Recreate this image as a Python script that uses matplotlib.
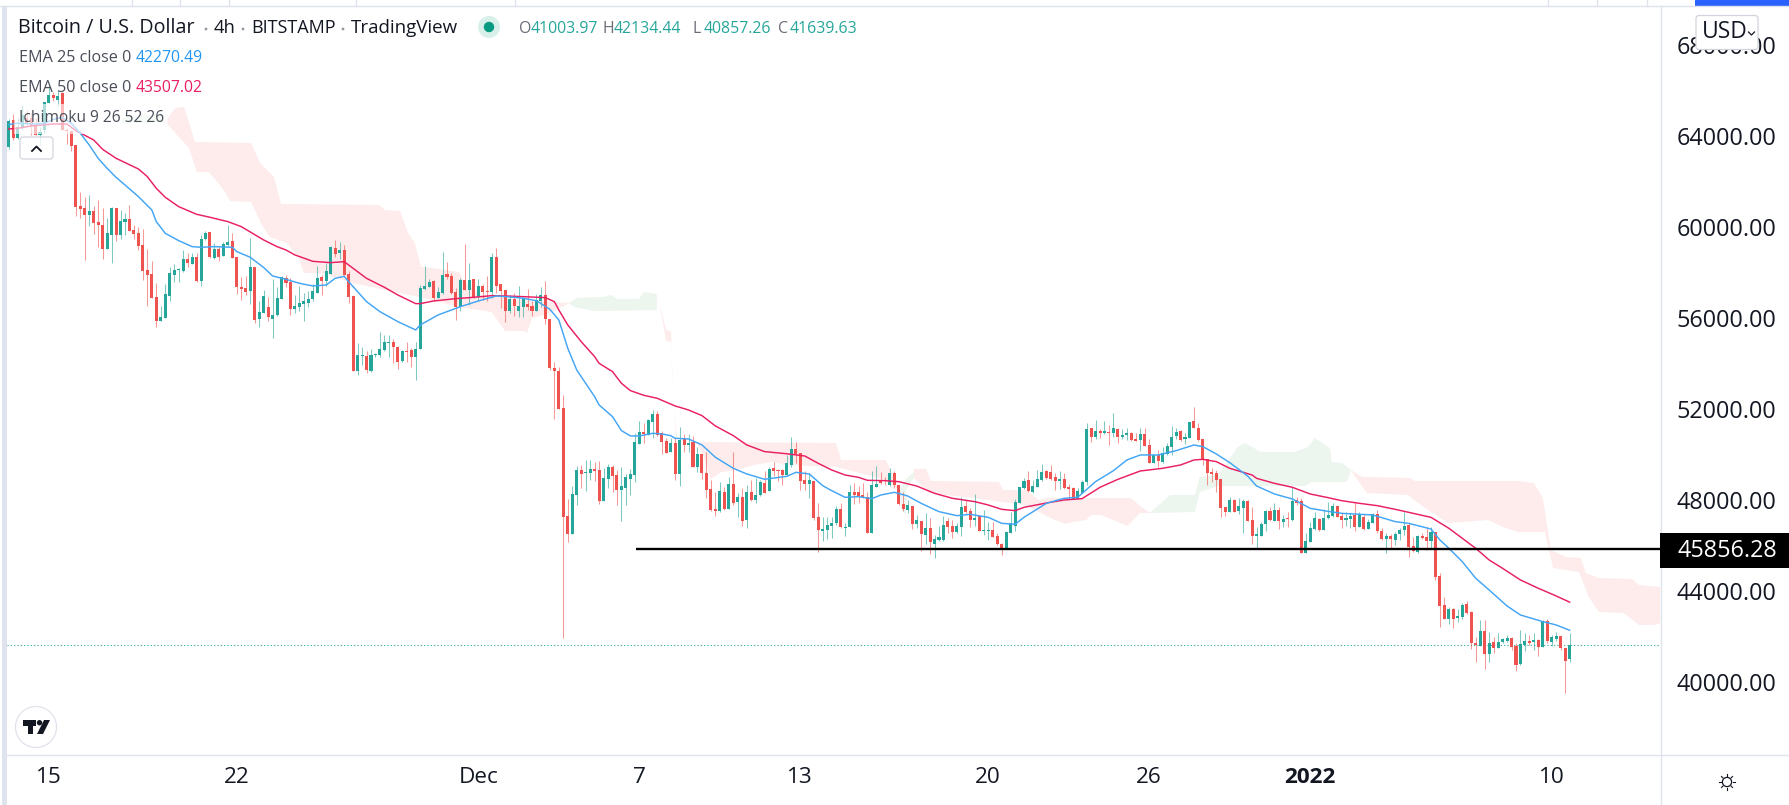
import numpy as np
import matplotlib
matplotlib.use("Agg")
import matplotlib.pyplot as plt
from matplotlib.patches import Rectangle, FancyBboxPatch, Circle, Polygon

plt.rcParams['font.family'] = ['Open Sans', 'DejaVu Sans']

# ---------- candles (4h bars, BTC/USD) ----------
opens = [
63530,64700,63910,64340,64780,64780,64440,64040,64260,65465,
65800,65580,65875,64260,64230,63600,60920,60840,60540,60700,
60220,60090,59050,59660,60840,59650,60220,60350,59870,59720,
59210,58110,57935,56910,55885,56000,56970,57910,58100,58080,
58595,58390,58680,57640,59475,59800,58650,59030,58740,59195,
59370,58680,57365,57305,57200,58240,55972,56234,56498,55970,
56132,56850,57772,57568,56395,56498,56630,56674,56820,57113,
57802,57611,57934,59076,58842,58989,57934,56967,53685,54315,
54330,53685,54359,54359,54594,54916,54945,54725,54110,54550,
54594,54300,54652,57260,57348,57611,56894,57084,57934,57846,
57128,56498,57670,57230,57714,56937,57407,57187,57128,58681,
57494,57230,56308,56835,56308,56468,56600,56527,56322,56761,
56996,55941,53787,53670,52029,47297,46506,48220,49319,49202,
49202,49363,49319,47971,48923,49466,49099,48440,48528,48923,
49099,50462,50974,50872,51429,51780,50930,50579,50110,50520,
49143,50696,50418,50550,49466,50022,49202,48484,47605,47532,
48352,47620,48704,47927,48132,47121,48352,48000,48220,48762,
48411,49392,49333,49319,49097,49537,50240,50050,48877,48702,
48848,47251,46651,46680,46856,46973,47603,46782,46812,48350,
48350,48233,48116,46563,48584,48877,48848,48643,49200,48643,
47823,47574,47735,46944,47076,46475,46783,46065,46240,46240,
47061,46870,46577,46827,47735,47500,47120,47295,46621,46621,
46665,46416,46065,45889,46563,46870,47881,48526,48877,48365,
48584,48877,49273,49244,48995,48849,48907,48556,48526,48058,
48321,48790,51149,50782,51017,50944,50988,50958,51120,50782,
50841,50958,50665,50636,50900,50416,49640,49962,49669,50021,
50343,50812,51046,50694,50724,51471,51163,50665,49786,49230,
49171,48922,47677,47486,47999,47516,47662,47970,47120,46417,
46432,46944,47516,47091,47560,47032,47164,47120,47999,47955,
45655,46167,46709,47163,46680,47207,47280,47734,47310,47119,
47163,47339,46811,47251,46723,47002,47368,46635,46284,46416,
46255,46504,46680,46899,45976,45727,46416,46372,46196,46606,
44658,43369,42768,43207,42812,42870,43427,43076,41728,41581,
42240,41230,41742,41508,41757,41816,41933,41581,40790,41625,
41801,41757,41845,41552,42665,41772,41874,42021,41508,41004]

closes = [
64670,63900,64380,64920,64560,64440,64040,64190,65490,65800,
65655,65760,64260,64230,63560,60895,60800,60530,60690,60190,
60100,59020,59720,60820,59635,60265,60350,59840,59710,59180,
58080,57910,56895,55885,56030,57055,57980,58110,58110,58595,
58420,58680,57640,59475,59740,58700,59050,58700,59240,59330,
58650,57380,57276,57145,58240,55914,56265,56967,56029,56132,
56864,57787,57553,56410,56513,56660,56732,56835,57172,57758,
57626,58066,59120,58813,58989,57904,56937,53685,54374,54330,
53714,54374,54418,54637,54945,54945,54740,54081,54564,54491,
54286,54637,57318,57406,57582,56864,57143,57890,57787,57113,
56469,57670,57230,57670,56908,57407,57143,57157,58681,57407,
57187,56308,56835,56527,56527,56820,56497,56322,56790,56996,
55955,53787,53685,52015,47268,46506,48264,49319,49143,49231,
49363,49290,47971,48967,49451,49055,48440,48616,48996,49143,
50550,50974,50901,51517,51780,50857,50550,50081,50520,49143,
50637,50418,50506,49466,50022,49172,48440,47561,47532,48396,
47590,48704,47883,48132,47092,48352,48000,48220,48792,48323,
49348,49290,49290,49114,49610,50240,50006,48848,48702,48877,
47222,46680,46709,46885,46988,47603,46797,46826,48365,48218,
48174,48116,46563,48658,48702,48731,48819,49200,48643,47823,
47588,47779,46944,47120,46504,46783,46138,46284,46387,46900,
46812,46577,46856,47691,47471,47120,47222,46651,46680,46680,
46387,46050,45889,46592,47002,47896,48555,48848,48380,48614,
48907,49244,48951,48922,48834,48907,48526,48482,48058,48380,
48805,51120,50782,51017,50958,51017,50958,51149,50782,50856,
50958,50636,50607,50900,50387,49640,49962,49728,50050,50372,
50753,50988,50636,50753,51412,51163,50636,49786,49171,49142,
48878,47662,47486,47999,47486,47721,47940,47091,46432,46505,
46944,47516,47120,47560,47076,47164,47149,47955,47853,45655,
46197,46753,47207,46680,47207,47339,47734,47265,47119,47207,
47295,46826,47339,46723,47031,47383,46635,46284,46416,46284,
46504,46680,46855,45932,45742,46416,46313,46196,46592,44628,
43339,42783,43222,42768,42900,43398,43017,41728,41640,42240,
41230,41728,41479,41757,41889,41918,41552,40761,41669,41786,
41713,41860,41552,42680,41786,41977,42021,41479,40922,41640]

highs = [
64730,64970,64780,65360,65140,64990,64780,64410,65490,66200,
65950,66020,65950,64340,64230,63600,61540,61305,61410,60920,
61190,60820,60380,60895,60840,60750,60600,60970,60090,59990,
59900,59020,58490,57525,56530,57480,58260,58375,58200,58990,
58845,58845,58845,59650,59840,59800,59310,59135,59360,60090,
59720,58680,57818,57850,59500,58240,56734,57230,56937,57714,
57348,57846,57890,57743,57011,57407,57113,57201,57480,58285,
57890,58402,59164,59428,59340,59208,58080,56967,54886,54711,
54564,54623,54447,55385,55253,55253,55062,54784,54594,54945,
54667,54960,57450,58285,57729,57670,57377,58915,58461,57992,
57304,57743,59252,58402,57714,57699,57480,57846,58871,59062,
57494,57230,57011,57084,57407,56937,57259,56761,57054,57347,
57626,55941,54051,53831,52615,48030,48616,49495,49524,49758,
49758,49685,49700,49407,49583,49539,49319,49466,49143,49348,
50930,51487,51399,51546,51956,51927,51018,50711,50711,50711,
51209,50901,50901,50813,50315,50022,50125,48880,48367,48792,
48586,49026,50095,48294,48513,48660,48880,48953,48880,49260,
49466,49670,49378,49378,49976,50753,50533,50050,49288,49170,
48848,47852,47237,47237,47237,47735,47881,46973,48658,48731,
48614,48731,48365,49273,49493,49229,48995,49405,49288,48643,
48365,48000,47735,47339,47076,47412,47193,46460,46856,47295,
47193,47120,47002,48116,48000,47632,48262,47295,47559,47046,
47032,46563,46123,46651,47486,48028,48584,48951,49288,48877,
49317,49581,49317,49537,49171,49288,49200,48702,48556,48512,
48878,51369,51149,51515,51105,51456,51281,51808,51149,51105,
51149,51002,50929,51149,51149,50665,49977,50196,50343,50490,
51251,51149,51075,50958,51427,52072,51398,50665,49786,49391,
49317,48922,47706,48116,48043,48072,48028,47999,47677,46798,
47047,47560,47677,47882,47677,47340,47486,48556,48116,48072,
46534,47046,47485,47192,47588,47925,47852,47734,47441,47456,
47441,47925,47456,47368,47148,47412,47558,46782,46562,46504,
46606,46753,47485,46972,46387,46460,46533,46797,46797,46606,
44775,43720,43281,43237,43193,43456,43544,43105,41991,42724,
42724,42211,41991,42167,41933,42050,41991,41699,42284,42138,
42065,42138,41889,42709,42753,42065,42211,42021,41508,42134]

lows = [
63440,63825,63850,64290,64480,64040,64040,63600,64120,65465,
65550,65320,64260,63630,63340,60480,60380,58550,60045,59690,
59135,58595,59020,58400,59400,59460,59650,59810,59460,58990,
57670,56530,56865,55620,55885,56000,56760,57600,57580,58040,
58260,58375,57600,57420,59430,58620,58610,58520,58726,59166,
58620,57040,56790,57000,56617,55800,55620,56234,55883,55136,
56088,56850,57348,56132,56205,56322,55883,56498,56762,57084,
57011,57407,57934,58696,58578,57875,56674,53685,53510,53934,
53568,53641,54271,54300,54564,54300,54037,53744,54081,54081,
53832,53275,54652,57230,57348,56762,56864,57055,57699,57055,
55912,56322,57230,56571,56864,56747,56791,56762,56894,57084,
56454,55824,56234,56088,56059,56058,56351,56102,56322,56497,
55736,53714,51546,51985,41950,46169,46506,47781,48528,48411,
48880,48836,47825,47971,48513,48367,47795,47092,47781,48220,
48806,50462,50491,50843,50711,50813,50022,50081,50110,48880,
48616,50125,50110,49436,49231,48909,48088,47532,47298,47488,
47561,47590,47795,47268,46858,46784,47971,47883,48176,48323,
48396,49055,48850,48674,49097,49464,49610,48438,48438,48086,
47120,45728,46211,46299,46314,46900,46753,46416,46797,47823,
47881,48086,46563,46563,48555,48702,48658,48614,48540,47779,
47515,47412,46739,46753,45772,46065,45625,45464,46211,46196,
46533,46314,46563,46416,47442,46797,46870,46651,46460,46240,
46358,46021,45567,45889,46533,46651,47852,48497,48350,48291,
48584,48848,48907,48878,48438,48482,48497,48043,48028,48043,
48292,48658,50563,50665,50709,50900,50416,50753,50519,50665,
50636,50607,50607,50152,50372,49610,49610,49464,49640,49977,
49977,50665,50607,50460,50709,51149,50607,49523,48658,48805,
48336,47267,47296,47457,47457,47384,46563,47061,46065,45904,
46417,46651,47091,47061,46724,46827,46827,47091,47794,45655,
45655,46152,46680,46650,46680,47148,47236,47236,46782,46855,
46753,46650,46797,46680,46709,46972,46562,46240,45683,45888,
46020,46240,46460,45507,45713,45683,46269,45800,45874,44482,
42402,42768,42548,42387,42651,42753,42988,41464,40893,41581,
40585,40893,41259,41479,41699,41772,41405,40497,40746,41376,
41625,41405,41156,41552,41699,41581,41816,41405,39530,40857]

# ---------- moving averages (bar index, price) ----------
ema50_idx = [0,2,5,10,13,15,19,21,24,29,31,33,35,38,42,45,49,52,57,60,62,64,68,72,75,77,80,84,87,91,92,95,100,104,108,111,115,
             120,122,123,125,128,131,132,135,137,139,142,145,149,152,155,158,162,165,169,174,178,181,184,187,190,192,196,199,
             203,207,211,216,219,222,225,227,232,236,240,244,248,253,258,262,265,267,270,273,278,279,283,287,291,295,298,302,
             306,310,313,318,322,325,328,331,334,338,342,346,349]
ema50_val = [64308,64337,64440,64528,64528,64235,63825,63414,63019,62550,62213,61700,61305,60895,60558,60426,60235,60015,59430,59135,58988,58769,58490,58432,58476,58183,57743,57348,57011,56630,56630,56747,56850,56908,56981,56967,56937,
             56893,56717,56351,55692,54960,54300,54007,53640,53128,52806,52600,52469,52132,51956,51707,51253,50828,50418,50125,50030,49932,49610,49317,49097,48995,48863,48848,48804,
             48614,48291,48072,47925,47779,47588,47530,47676,47865,47999,48058,48556,48907,49273,49391,49537,49757,49786,49684,49391,49098,48951,48731,48556,48262,48100,47969,47851,
             47749,47588,47456,47236,46753,46313,45874,45361,44995,44482,44116,43779,43507]
ema25_idx = [0,2,6,8,10,12,14,16,18,20,22,24,26,29,32,33,35,38,41,43,46,50,51,54,57,59,62,65,68,71,73,75,76,78,80,83,87,91,92,96,101,105,109,113,115,
             118,121,123,125,127,128,131,132,135,137,139,141,144,146,148,149,152,155,158,162,165,169,174,176,179,182,184,187,190,193,195,198,201,204,208,212,215,219,222,225,227,232,
             236,239,243,247,250,253,257,261,265,267,270,273,277,279,283,287,291,294,298,305,310,313,318,320,322,325,328,331,335,338,343,346,349]
ema25_val = [64500,64557,64528,64557,64733,64821,64557,64118,63605,63019,62579,62184,61847,61334,60748,60235,59722,59400,59136,59107,59136,59107,58917,58668,58220,57846,57699,57524,57407,57450,57743,57831,57597,57157,56718,56278,55839,55472,55692,56132,56498,56747,56967,56908,56864,
             56761,56380,55911,54666,53714,53421,52542,52176,51663,51048,50813,50813,50930,50901,50828,50711,50681,50418,49876,49392,49143,48909,49040,49214,49141,48628,48409,48116,48145,48057,48218,48335,48174,47852,47486,47310,47368,47237,46973,46929,47237,47852,
             48072,48116,48805,49288,49757,49977,49977,50167,50416,50343,50021,49640,49054,48614,48263,48043,47632,47529,47412,47339,47046,46972,46723,46240,45874,45288,44555,44042,43339,42944,42651,42504,42270]

# ---------- Ichimoku cloud outlines (bar index, price), drawn top edge then bottom edge ----------
green_z_top_i = [25.3,29,33.8,35]
green_z_top_p = [64750,64923,64923,64615]
green_z_bot_i = [25.3,35]
green_z_bot_p = [64571,64571]
pink_a_top_i = [35,37.2,39.2,40.3,41.6,54.2,56.2,59.3,60.9,82.8,84.1,87.5,89.3,90.8,92.2,94.6,100.7,101.6,105.4,114.3,125.3]
pink_a_top_p = [64615,65230,65274,64615,63736,63692,62813,62197,61010,60966,60746,60702,59735,59296,58241,58197,58021,57669,57010,56790,56658]
pink_a_bot_i = [40.3,42.1,44.8,48.1,49.5,54.2,56.6,58.4,62.2,64.9,66,67.8,70.7,76.8,86.4,89.5,91.9,100.7,108,111,115.2,115.9,117,119.9,123.3,125.3]
pink_a_bot_p = [63473,62417,62417,61626,61142,61098,60087,59559,59296,58636,57977,57977,57933,57537,57142,57010,56922,56482,56262,55427,55427,55339,55999,56131,56438,56658]
green_a_top_i = [125.3,127,133.1,134.7,136,140.9,142,144.9]
green_a_top_p = [56658,56878,56922,57010,56834,56834,57142,57054]
green_a_bot_i = [126.4,130.9,144.9]
green_a_bot_p = [56482,56306,56350]
pink_b_top_i = [144.9,147,148.1,148.3,149.2]
pink_b_top_p = [57054,55471,55427,53713,50767]
pink_b_bot_i = [145.8,147,148.1,148.7,149.4]
pink_b_bot_p = [56306,54987,54944,52262,50767]
pink_c_top_i = [153.9,185,186.1,196.1,197.7,199]
pink_c_top_p = [50548,50504,49756,49756,49097,48438]
pink_c_bot_i = [155.4,157,159.3,162.8,166.6,170.7,173.8,185.2,196.1]
pink_c_bot_p = [49889,48921,49229,49317,49537,49668,49537,49449,48877]
green_b_top_i = [202.4,200.4,199,199.7,200.6]
green_b_top_p = [49229,48877,48350,47559,47339]
green_b_bot_i = [200.8,200.6,202.4]
green_b_bot_p = [47998,48438,48965]
pink_d_top_i = [202.4,205.1,206.2,221.4,222.3,227.4,230.3,232.4,250.9,253.2,255.4]
pink_d_top_p = [49361,49361,48833,48789,48438,48438,47998,48086,48086,47690,47426]
pink_d_bot_i = [252.9,250.2,244.2,242,240.9,238,236.2,232.4,229.7,227,215.6,205.8,202.4]
pink_d_bot_p = [47426,46855,47339,47339,47119,47031,46943,47250,47558,47778,48086,48305,48965]
green_c_top_i = [255.2,256.3,258.5,259.6,265.2,266.3,270.4,274.8,276.4,280,287.6,290.5,292,295.4,295.8,298.1,300.1]
green_c_top_p = [47426,47646,47998,48218,48218,49009,49097,50328,50504,50108,50108,50328,50724,50284,49668,49624,49317]
green_c_bot_i = [299.2,291.4,289.8,270.4,266.3,265.2]
green_c_bot_p = [48789,48789,48613,48613,48350,47470]
pink_e_top_i = [300.1,302.6,313.3,314.4,337.4,341,343,344.8,348.2,351.5,352.6,355.5,362.9,364.5,369.2]
pink_e_top_p = [49317,49009,48965,48833,48833,48745,48086,45800,45492,45448,44789,44569,44525,44261,44173]
pink_e_bot_i = [369.2,367.9,364.5,361.1,355.5,353.3,351.1,345.3,343.5,337.4,334.1,330.7,321.8,317.3,312.8,303.7,300.3]
pink_e_bot_p = [42592,42505,42505,43030,43074,43733,44832,45008,46591,46591,46811,47119,46987,47558,48218,48305,49229]

# ---------- labels ----------
y_ticks = [40000,44000,48000,52000,56000,60000,64000,68000]
y_tick_labels = ["%d.00" % v for v in y_ticks]
x_ticks = [9,51,105,141,177,219,255,291,345]
x_tick_labels = ["15","22","Dec","7","13","20","26","2022","10"]
support_level = 45856.28
support_start = 140.3
last_price = 41639.63
legend_ohlc = [("O","41003.97",519),("H","42134.44",602),("L","40857.26",692),("C","41639.63",778)]

UP = "#26a69a"; DOWN = "#ef5350"; INK = "#131722"; GRID = "#e0e3eb"
W, H = 1789, 805
fig = plt.figure(figsize=(W/100, H/100), dpi=100, facecolor="white")
ax = fig.add_axes([7/W, (H-754)/H, 1653/W, 748/H])
ax.set_xlim(-0.38, 369.2)
ax.set_ylim(36832, 69714)
for s in ax.spines.values():
    s.set_visible(False)

def cloud(ti, tp, bi, bp, color, reverse_bottom=False):
    xs = list(ti) + (list(bi)[::-1] if reverse_bottom else list(bi))
    ys = list(tp) + (list(bp)[::-1] if reverse_bottom else list(bp))
    ax.fill(xs, ys, color=color, lw=0, zorder=1)

PINK = "#fdeceb"; GREEN = "#ecf5ee"
cloud(green_z_top_i, green_z_top_p, green_z_bot_i, green_z_bot_p, GREEN, True)
cloud(pink_a_top_i, pink_a_top_p, pink_a_bot_i, pink_a_bot_p, PINK, True)
cloud(green_a_top_i, green_a_top_p, green_a_bot_i, green_a_bot_p, GREEN, True)
cloud(pink_b_top_i, pink_b_top_p, pink_b_bot_i, pink_b_bot_p, PINK, True)
cloud(pink_c_top_i, pink_c_top_p, pink_c_bot_i, pink_c_bot_p, PINK, True)
cloud(green_b_top_i, green_b_top_p, green_b_bot_i, green_b_bot_p, GREEN)
cloud(pink_d_top_i, pink_d_top_p, pink_d_bot_i, pink_d_bot_p, PINK)
cloud(green_c_top_i, green_c_top_p, green_c_bot_i, green_c_bot_p, GREEN)
cloud(pink_e_top_i, pink_e_top_p, pink_e_bot_i, pink_e_bot_p, PINK)

o, h, l, c = map(np.array, (opens, highs, lows, closes))
x = np.arange(len(o))
up = c >= o
cols = np.where(up, UP, DOWN)
ax.vlines(x, l, h, colors=list(cols), lw=0.75, alpha=0.6, zorder=2)
ax.bar(x, np.maximum(np.abs(c-o), 45), bottom=np.minimum(o, c), width=0.68,
       color=list(cols), linewidth=0, zorder=2.5)

ax.plot(ema50_idx, ema50_val, color="#e91e63", lw=1.05, zorder=3, solid_joinstyle="round")
ax.plot(ema25_idx, ema25_val, color="#42a5f5", lw=1.05, zorder=3, solid_joinstyle="round")
ax.axhline(last_price, color=UP, lw=0.8, ls=(0, (1, 2)), zorder=1.5)
ax.hlines(support_level, support_start, 369.2, color="black", lw=1.7, zorder=4)

ax.yaxis.tick_right()
ax.set_yticks(y_ticks)
ax.set_yticklabels(y_tick_labels, fontsize=16.8, color=INK)
ax.set_xticks(x_ticks)
ax.set_xticklabels(x_tick_labels, fontsize=16.2, color=INK)
ax.tick_params(axis="y", length=0, pad=12)
ax.tick_params(axis="x", length=0, pad=9)
for t in ax.get_xticklabels():
    if t.get_text() == "2022":
        t.set_fontweight("bold")

# ---------- chrome in pixel coordinates ----------
ov = fig.add_axes([0, 0, 1, 1], zorder=5)
ov.set_xlim(0, W); ov.set_ylim(H, 0); ov.axis("off"); ov.patch.set_alpha(0)

ov.add_patch(Rectangle((2, 6), 5, H-6, color="#dfe3ee", lw=0))
ov.plot([0, W], [6.5, 6.5], color=GRID, lw=1)
for sx in [132, 180, 229, 356, 515, 1548, 1597, 1647]:
    ov.plot([sx, sx], [0, 6], color=GRID, lw=1)
ov.add_patch(Rectangle((1695, 0), 94, 6, color="#2962ff", lw=0))
ov.plot([1660.5, 1660.5], [6, H], color=GRID, lw=1)
ov.plot([7, W], [754.5, 754.5], color=GRID, lw=1)

# price tag
ov.add_patch(Rectangle((1660, 533), 129, 35, color="black", lw=0, zorder=6))
ov.text(1727, 550.5, "%.2f" % support_level, color="white", fontsize=16.8, fontweight="medium",
        ha="center", va="center", zorder=7)

# legend veil over the candles
ov.add_patch(Rectangle((14, 104), 154, 30, color="white", alpha=0.62, lw=0))

def label(px, py, s, color=INK, size=11.6, **kw):
    ov.text(px, py, s, color=color, fontsize=size, ha=kw.pop("ha", "left"), va="center", **kw)

label(18, 28, "Bitcoin / U.S. Dollar", size=14.2)
label(214, 28, "4h", size=13.2)
label(251, 28, "BITSTAMP", size=13)
label(351, 28, "TradingView", size=13.5)
for dx in [206, 243, 343]:
    ov.add_patch(Circle((dx, 29), 1.4, color="#9598a1", lw=0))
ov.add_patch(Circle((489, 27), 11, color="#d9efea", lw=0))
ov.add_patch(Circle((489, 27), 5.2, color="#089981", lw=0))
for letter, val, px in legend_ohlc:
    ov.text(px, 29, letter, color="#6a6d78", fontsize=11.4, va="center")
    ov.text(px + 12, 29, val, color=UP, fontsize=11.4, va="center")

label(19, 58, "EMA 25 close 0", color="#4a4e59")
label(136, 58, "42270.49", color="#2196f3", size=11.3)
label(19, 88, "EMA 50 close 0", color="#4a4e59")
label(136, 88, "43507.02", color="#e91e63", size=11.3)
label(19, 118, "Ichimoku 9 26 52 26", color="#4a4e59", size=11.2)

# collapse button
ov.add_patch(FancyBboxPatch((20, 137), 33, 22, boxstyle="round,pad=0,rounding_size=3",
                            fc=(1, 1, 1, 0.8), ec="#d1d4dc", lw=0.9))
ov.plot([32, 36.5, 41], [151, 146.5, 151], color=INK, lw=1.3)

# currency button
ov.add_patch(FancyBboxPatch((1696, 15.5), 62, 34, boxstyle="round,pad=0,rounding_size=3",
                            fc="white", ec="#d1d4dc", lw=0.9, zorder=6))
ov.text(1702, 32, "USD", color=INK, fontsize=16.5, va="center", zorder=7)
ov.plot([1748.5, 1751.5, 1754.5], [32, 35, 32], color=INK, lw=0.9, zorder=7)

# logo
ov.add_patch(Circle((36, 727), 20.5, fc="white", ec=GRID, lw=0.9))
ov.add_patch(Polygon([(23, 720), (36, 720), (36, 726), (33, 726), (33, 734), (27.5, 734), (27.5, 726), (23, 726)], color=INK, lw=0))
ov.add_patch(Circle((39.5, 722.7), 2.7, color=INK, lw=0))
ov.add_patch(Polygon([(44, 720), (50, 720), (43, 734), (37, 734)], color=INK, lw=0))

# settings sun
ov.add_patch(Circle((1727, 782), 4.6, fc="white", ec=INK, lw=0.9))
for a in np.arange(0, 2*np.pi, np.pi/4):
    ov.plot([1727+5.8*np.cos(a), 1727+7.8*np.cos(a)], [782+5.8*np.sin(a), 782+7.8*np.sin(a)], color=INK, lw=0.8)

fig.savefig("out.png", dpi=100, facecolor="white")
